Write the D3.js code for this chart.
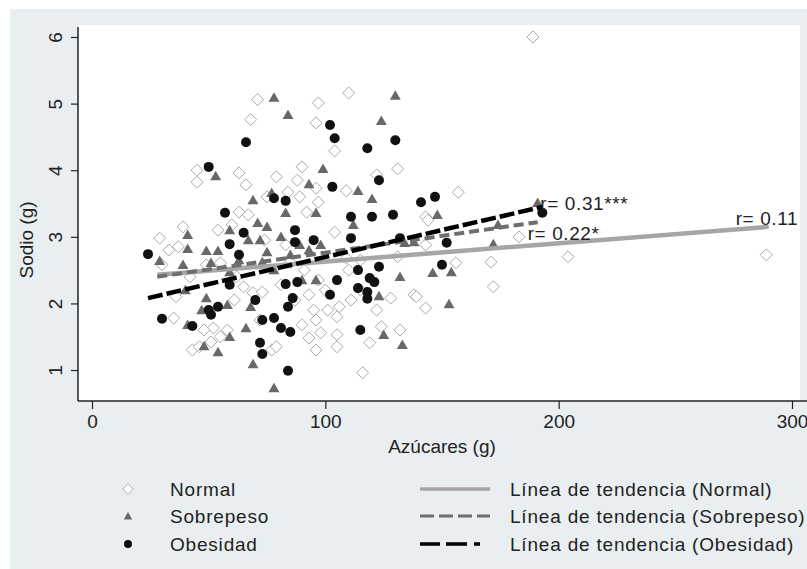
<!DOCTYPE html>
<html lang="es">
<head>
  <meta charset="UTF-8">
  <title>Sodio vs Azúcares</title>
  <script src="https://d3js.org/d3.v7.min.js"></script>
  <style>
    body {
      margin: 0;
      background-color: #ffffff;
      font-family: "Liberation Sans", Arial, sans-serif;
    }
    svg text {
      fill: #222;
    }
  </style>
</head>
<body>
  <svg id="chart" width="807" height="569"></svg>

  <script>
    // azúcares (g), sodio (g)
    const normal = [
      [189, 6.0], [71, 5.06], [110, 5.16], [97, 5.01], [68, 4.76], [96, 4.71], [104, 4.29],
      [45, 4.0], [45, 3.82], [63, 3.96], [66, 3.78], [79, 3.9], [75, 3.6], [63, 3.37],
      [67, 3.33], [90, 4.05], [88, 3.85], [84, 3.67], [96, 3.73], [109, 3.69], [89, 3.6],
      [97, 3.52], [92, 3.37], [131, 4.02], [122, 3.93], [143, 3.3], [157, 3.67], [144, 3.25],
      [183, 3.0], [143, 2.88], [171, 2.62], [204, 2.7], [156, 2.61], [289, 2.73], [138, 2.13],
      [143, 1.93], [172, 2.25], [39, 3.15], [33, 2.8], [37, 2.85], [30, 2.58], [36, 2.1],
      [35, 1.78], [43, 1.3], [46, 1.35], [55, 1.5], [52, 1.63], [58, 1.6], [62, 2.4],
      [65, 2.25], [69, 2.16], [73, 2.17], [61, 2.05], [55, 2.61], [49, 2.58], [54, 3.1],
      [60, 3.18], [48, 1.6], [77, 1.3], [51, 1.42], [104, 3.07], [131, 2.7], [110, 2.5],
      [128, 2.08], [139, 2.1], [122, 1.9], [95, 1.9], [101, 1.9], [106, 1.95], [111, 2.05],
      [96, 1.75], [105, 1.8], [90, 1.68], [98, 1.56], [105, 1.53], [93, 1.48], [96, 1.3],
      [105, 1.35], [119, 1.41], [124, 1.65], [79, 1.35], [116, 0.96], [109, 2.68], [100, 2.2],
      [29, 2.98], [85, 2.62], [91, 2.5], [97, 2.35], [81, 2.28], [87, 2.05], [93, 2.13],
      [115, 2.65], [83, 2.88], [74, 2.95], [115, 2.2], [132, 1.6], [72, 1.75], [42, 2.4]
    ];

    const sobrepeso = [
      [78, 5.09], [53, 3.91], [69, 3.55], [77, 3.66], [84, 4.83], [130, 5.12], [124, 4.74],
      [99, 4.02], [93, 3.79], [114, 3.69], [120, 3.57], [83, 3.36], [96, 3.36], [148, 3.33],
      [132, 2.4], [146, 2.46], [154, 2.47], [172, 2.89], [153, 1.99], [133, 1.38], [174, 3.18],
      [191, 3.51], [41, 3.03], [41, 2.82], [49, 2.79], [54, 2.79], [29, 2.64], [71, 3.21],
      [75, 3.15], [59, 3.1], [67, 2.95], [72, 2.95], [75, 2.77], [47, 1.9], [68, 1.95],
      [66, 1.63], [59, 1.5], [48, 1.36], [54, 1.27], [69, 1.09], [78, 0.73], [41, 1.68],
      [49, 2.08], [51, 2.61], [112, 3.18], [81, 3.0], [98, 2.88], [123, 2.11], [125, 1.53],
      [96, 2.35], [90, 2.35], [134, 2.91], [138, 2.92], [63, 2.65], [59, 2.47], [78, 2.5],
      [85, 2.73], [93, 2.8], [40, 2.2], [58, 1.98], [73, 2.62], [89, 2.88], [39, 2.58]
    ];

    const obesidad = [
      [66, 4.42], [50, 4.05], [78, 3.58], [57, 3.36], [102, 4.68], [104, 4.48], [118, 4.33],
      [130, 4.45], [123, 3.85], [103, 3.75], [83, 3.54], [141, 3.52], [147, 3.6], [120, 3.3],
      [129, 3.33], [152, 2.91], [150, 2.58], [193, 3.36], [132, 2.98], [24, 2.74], [30, 1.77],
      [43, 1.66], [50, 1.9], [54, 1.95], [70, 2.05], [73, 1.75], [72, 1.41], [73, 1.24],
      [84, 0.99], [65, 3.06], [59, 2.89], [63, 2.73], [78, 1.78], [81, 1.63], [85, 1.57],
      [84, 1.95], [86, 2.08], [83, 2.29], [88, 2.32], [95, 2.95], [111, 2.98], [114, 2.5],
      [119, 2.38], [123, 2.55], [115, 1.6], [102, 2.13], [105, 2.35], [111, 3.3], [87, 3.1],
      [87, 2.92], [51, 1.83], [59, 2.28], [114, 2.23], [118, 2.17], [118, 2.07], [121, 2.32]
    ];

    // trend lines: [x0, y0, x1, y1] and r labels
    const trendNormal = [28, 2.43, 290, 3.15];
    const trendSobrepeso = [28, 2.40, 191, 3.22];
    const trendObesidad = [24, 2.08, 193, 3.45];
    const rLabels = ["r= 0.11", "r= 0.22*", "r= 0.31***"];

    const xTicks = [0, 100, 200, 300];
    const yTicks = [1, 2, 3, 4, 5, 6];
    const groupNames = ["Normal", "Sobrepeso", "Obesidad"];
    const lineNames = [
      "Línea de tendencia (Normal)",
      "Línea de tendencia (Sobrepeso)",
      "Línea de tendencia (Obesidad)"
    ];

    const svg = d3.select("#chart");

    // outer grey-blue background
    svg.append("rect")
      .attr("x", 10).attr("y", 9)
      .attr("width", 797).attr("height", 560)
      .attr("fill", "#e9eff1");

    const x = d3.scaleLinear().domain([-6, 306]).range([78, 806]);
    const y = d3.scaleLinear().domain([0.535, 6.15]).range([401, 27]);

    // plot region
    svg.append("rect")
      .attr("x", 78).attr("y", 25)
      .attr("width", 722).attr("height", 376)
      .attr("fill", "#ffffff");

    const diamond = d3.symbol().type(d3.symbolDiamond2).size(92);
    const triangle = d3.symbol().type(d3.symbolTriangle).size(52);

    function drawNormal(g, pts) {
      g.selectAll(".normal")
        .data(pts)
        .enter()
        .append("path")
        .attr("class", "normal")
        .attr("d", diamond)
        .attr("transform", (d) => `translate(${x(d[0])},${y(d[1])})`)
        .attr("fill", "#ffffff")
        .attr("stroke", "#a9a9a9")
        .attr("stroke-width", 1);
    }

    function drawSobrepeso(g, pts) {
      g.selectAll(".sobre")
        .data(pts)
        .enter()
        .append("path")
        .attr("class", "sobre")
        .attr("d", triangle)
        .attr("transform", (d) => `translate(${x(d[0])},${y(d[1]) + 1})`)
        .attr("fill", "#686868");
    }

    function drawObesidad(g, pts) {
      g.selectAll(".obes")
        .data(pts)
        .enter()
        .append("circle")
        .attr("class", "obes")
        .attr("cx", (d) => x(d[0]))
        .attr("cy", (d) => y(d[1]))
        .attr("r", 5)
        .attr("fill", "#111");
    }

    const pts = svg.append("g");
    drawNormal(pts, normal);
    drawSobrepeso(pts, sobrepeso);
    drawObesidad(pts, obesidad);

    // trend lines
    const trends = [
      { t: trendNormal, color: "#a6a6a6", width: 4.5, dash: null, legendDash: null },
      { t: trendSobrepeso, color: "#6e6e6e", width: 4, dash: "10,5", legendDash: "14,5" },
      { t: trendObesidad, color: "#000", width: 4.5, dash: "15,4", legendDash: "20,6,21,7,6,20" }
    ];

    svg.selectAll(".trend")
      .data(trends)
      .enter()
      .append("line")
      .attr("class", "trend")
      .attr("x1", (d) => x(d.t[0]))
      .attr("y1", (d) => y(d.t[1]))
      .attr("x2", (d) => x(d.t[2]))
      .attr("y2", (d) => y(d.t[3]))
      .attr("stroke", (d) => d.color)
      .attr("stroke-width", (d) => d.width)
      .attr("stroke-dasharray", (d) => d.dash);

    // r labels near line ends
    const rStyle = (s) => s.style("font-size", "19px").style("letter-spacing", "0.6px");
    svg.append("text")
      .attr("x", x(trendNormal[2]) - 33).attr("y", y(trendNormal[3]) - 2)
      .call(rStyle)
      .text(rLabels[0]);
    svg.append("text")
      .attr("x", x(trendSobrepeso[2]) - 10).attr("y", y(trendSobrepeso[3]) + 18)
      .call(rStyle)
      .text(rLabels[1]);
    svg.append("text")
      .attr("x", x(trendObesidad[2]) - 2).attr("y", y(trendObesidad[3]) + 3)
      .call(rStyle)
      .text(rLabels[2]);

    // axes
    const xAxis = d3.axisBottom(x).tickValues(xTicks).tickSize(8).tickPadding(6);
    const gx = svg.append("g")
      .attr("transform", "translate(0,401)")
      .call(xAxis);
    gx.select(".domain").attr("d", "M78,0H807").attr("stroke", "#222").attr("stroke-width", 1.5);
    gx.selectAll(".tick line").attr("stroke", "#222").attr("stroke-width", 1.2);
    gx.selectAll(".tick text")
      .style("font-size", "19px")
      .style("font-family", "'Liberation Sans', Arial, sans-serif")
      .attr("fill", "#222");

    const yAxis = d3.axisLeft(y).tickValues(yTicks).tickFormat(d3.format("d")).tickSize(7);
    const gy = svg.append("g")
      .attr("transform", "translate(78,0)")
      .call(yAxis);
    gy.select(".domain").attr("d", "M0,27V401").attr("stroke", "#222").attr("stroke-width", 1.5);
    gy.selectAll(".tick line").attr("stroke", "#222").attr("stroke-width", 1.2);
    gy.selectAll(".tick text")
      .style("font-size", "19px")
      .style("font-family", "'Liberation Sans', Arial, sans-serif")
      .attr("fill", "#222")
      .attr("text-anchor", "middle")
      .attr("dy", null)
      .attr("x", null)
      .attr("y", 0)
      .attr("transform", "translate(-16,0) rotate(-90)");

    // axis titles
    svg.append("text")
      .attr("x", 442).attr("y", 453)
      .attr("text-anchor", "middle")
      .style("font-size", "19px")
      .text("Azúcares (g)");

    svg.append("text")
      .attr("transform", "translate(33,240) rotate(-90)")
      .attr("text-anchor", "middle")
      .style("font-size", "19px")
      .text("Sodio (g)");

    // legend
    const legendRows = [489, 516, 544];
    const legend = svg.append("g");

    legend.append("path")
      .attr("d", d3.symbol().type(d3.symbolDiamond2).size(70))
      .attr("transform", `translate(128,${legendRows[0]})`)
      .attr("fill", "#fff").attr("stroke", "#a9a9a9");
    legend.append("path")
      .attr("d", d3.symbol().type(d3.symbolTriangle).size(32))
      .attr("transform", `translate(128,${legendRows[1] + 1})`)
      .attr("fill", "#686868");
    legend.append("circle")
      .attr("cx", 128).attr("cy", legendRows[2]).attr("r", 4)
      .attr("fill", "#111");

    legend.selectAll(".gname")
      .data(groupNames)
      .enter()
      .append("text")
      .attr("class", "gname")
      .attr("x", 170)
      .attr("y", (d, i) => legendRows[i] + 7)
      .style("font-size", "19px")
      .style("letter-spacing", "0.8px")
      .text((d) => d);

    legend.selectAll(".lsample")
      .data(trends)
      .enter()
      .append("line")
      .attr("class", "lsample")
      .attr("x1", 420).attr("x2", 490)
      .attr("y1", (d, i) => legendRows[i]).attr("y2", (d, i) => legendRows[i])
      .attr("stroke", (d) => d.color)
      .attr("stroke-width", (d) => d.width - 1)
      .attr("stroke-dasharray", (d) => d.legendDash);

    legend.selectAll(".lname")
      .data(lineNames)
      .enter()
      .append("text")
      .attr("class", "lname")
      .attr("x", 510)
      .attr("y", (d, i) => legendRows[i] + 7)
      .style("font-size", "19px")
      .style("letter-spacing", "0.8px")
      .text((d) => d);
  </script>
</body>
</html>
